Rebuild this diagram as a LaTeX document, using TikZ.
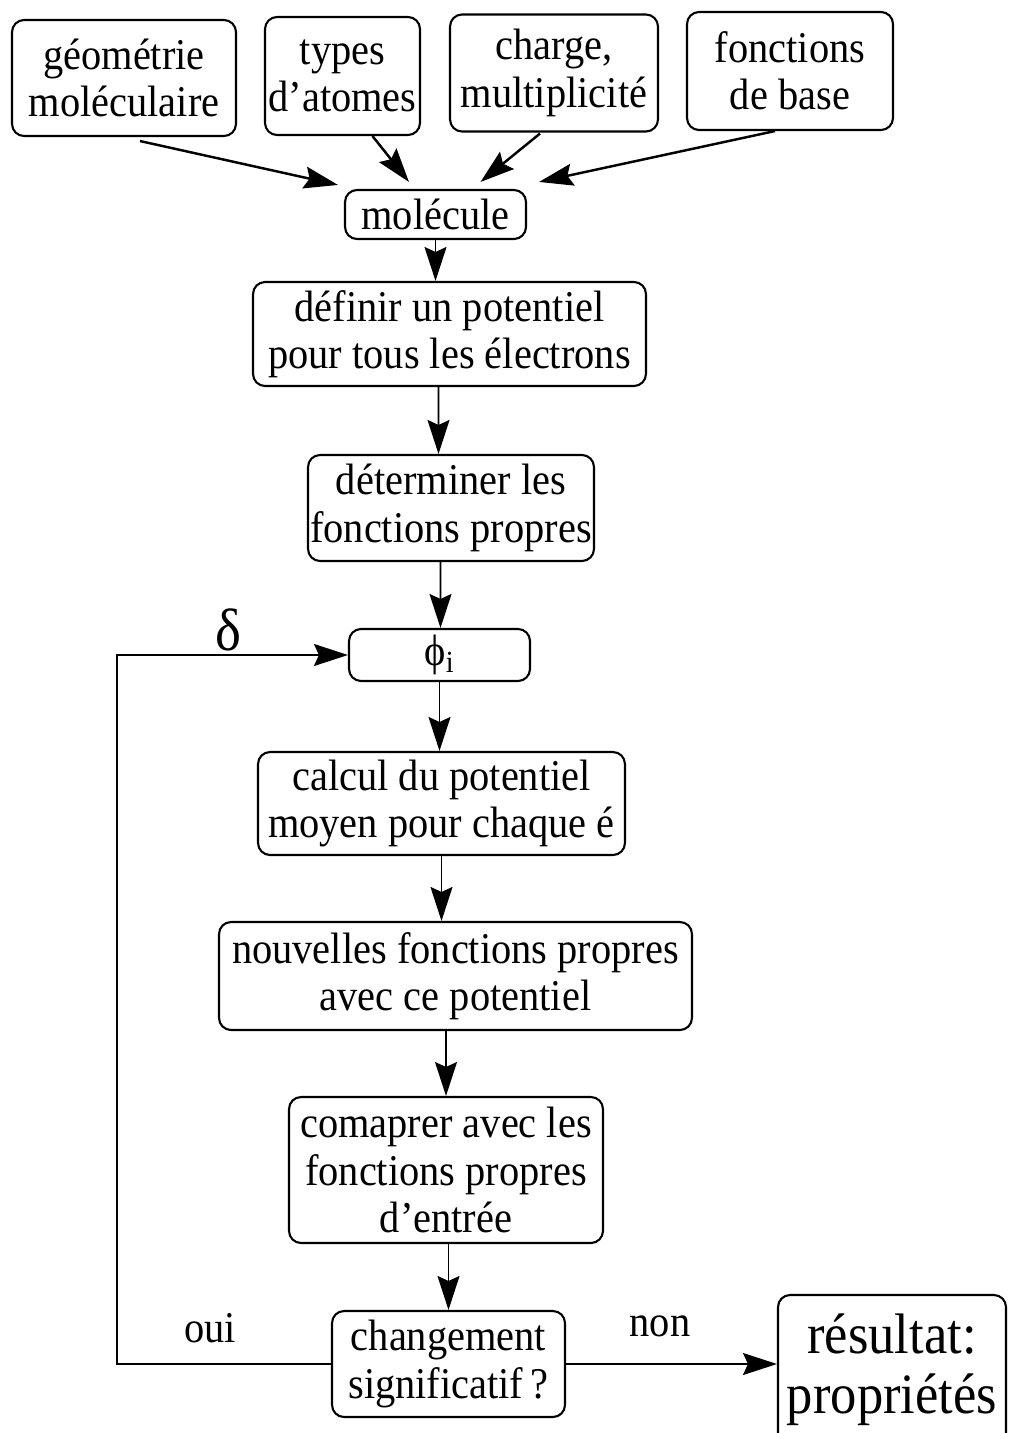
\documentclass[tikz,border=0pt]{standalone}
\usepackage{fontspec}
\setmainfont[FakeStretch=0.92]{Liberation Serif}
\usetikzlibrary{arrows.meta,calc}

\begin{document}
\begin{tikzpicture}[
  x=0.02cm, y=-0.02cm,
  box/.style={rectangle, rounded corners=0.24cm, draw=black, line width=1.2pt, align=center, inner sep=0pt, font=\fontsize{25}{27}\selectfont},
  arrow/.style={-{Stealth[length=0.68cm,width=0.44cm,inset=0.1cm]}, line width=0.9pt},
  lbl/.style={font=\fontsize{25}{27}\selectfont}
]
\useasboundingbox (0,0) rectangle (1010,1433);
\clip (0,0) rectangle (1010,1433);

\node[box, minimum width=4.48cm, minimum height=2.32cm] (geo) at (124,78) {géométrie\\moléculaire};
\node[box, minimum width=3.1cm, minimum height=2.36cm] (types) at (342.5,76) {types\\d’atomes};
\node[box, minimum width=4.16cm, minimum height=2.34cm] (charge) at (554,73) {charge,\\multiplicité};
\node[box, minimum width=4.12cm, minimum height=2.36cm] (base) at (790,71) {fonctions\\de base};
\node[box, minimum width=3.62cm, minimum height=0.98cm] (mol) at (435.5,214.5) {molécule};
\node[box, minimum width=7.86cm, minimum height=2.08cm] (pot) at (449.5,334) {définir un potentiel\\pour tous les électrons};
\node[box, minimum width=5.72cm, minimum height=2.12cm] (det) at (451,508) {déterminer les\\fonctions propres};
\node[box, minimum width=3.62cm, minimum height=1.04cm] (phi) at (439.5,655) {ϕ\textsubscript{i}};
\node[box, minimum width=7.34cm, minimum height=2.06cm] (moy) at (441.5,803.5) {calcul du potentiel\\moyen pour chaque é};
\node[box, minimum width=9.46cm, minimum height=2.16cm] (nouv) at (455.5,976) {nouvelles fonctions propres\\avec ce potentiel};
\node[box, minimum width=6.28cm, minimum height=2.92cm] (comp) at (446,1170) {comaprer avec les\\fonctions propres\\d’entrée};
\node[box, minimum width=4.66cm, minimum height=2.12cm] (chg) at (448.5,1364) {changement\\significatif\,?};
\node[box, minimum width=4.56cm, minimum height=3.0cm, font=\fontsize{32.5}{34}\selectfont] (res) at (892,1370) {résultat:\\propriétés};

\node[lbl, font=\fontsize{34}{34}\selectfont] (delta) at (228,630) {δ};
\node[lbl] (oui) at (210,1328) {oui};
\node[lbl] (non) at (660,1326) {non};

\draw[arrow, line width=1.4pt] ($(geo.south)+(16,4)$) -- ($(mol.north west)+(-6,-4)$);
\draw[arrow, line width=1.4pt] ($(types.south)+(30,0)$) -- ($(mol.north west)+(65,-7)$);
\draw[arrow, line width=1.4pt] ($(charge.south)+(-14,1)$) -- ($(mol.north)+(45,-7)$);
\draw[arrow, line width=1.4pt] ($(base.south)+(-15,0)$) -- ($(mol.north east)+(12,-7)$);
\draw[arrow] (mol.south) -- (mol.south |- pot.north);
\draw[arrow] ([xshift=-0.22cm]pot.south) -- ([xshift=-0.25cm]det.north);
\draw[arrow] ([xshift=-0.21cm]det.south) -- ([xshift=0.02cm]phi.north);
\draw[arrow] (phi.south) -- (phi.south |- moy.north);
\draw[arrow] (moy.south) -- (moy.south |- nouv.north);
\draw[arrow] (comp.north |- nouv.south) -- (comp.north);
\draw[arrow] (chg.north |- comp.south) -- (chg.north);
\draw[arrow, line width=1.1pt] (chg.east) -- (chg.east -| res.west);
\draw[arrow, line width=1.1pt] (chg.west) -- ++(-214,0) |- (phi.west);
\end{tikzpicture}
\end{document}
